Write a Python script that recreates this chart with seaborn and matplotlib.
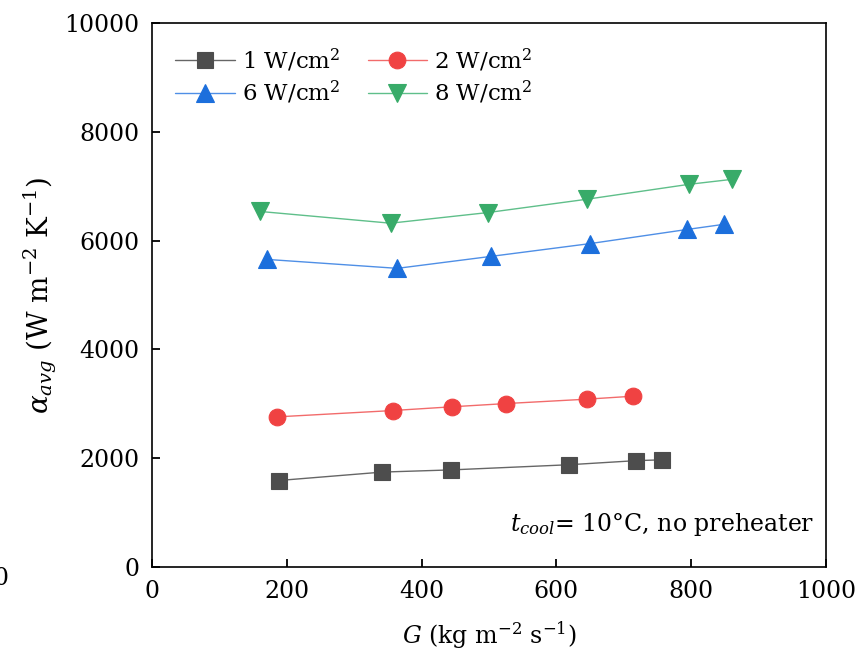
import matplotlib
matplotlib.use("Agg")
import matplotlib.pyplot as plt
import seaborn as sns
import pandas as pd

# Mass flux G (kg m^-2 s^-1) and average heat transfer coefficient (W m^-2 K^-1)
g_1w = [188, 342, 444, 619, 718, 756]
a_1w = [1590, 1745, 1785, 1880, 1955, 1970]

g_2w = [186, 357, 445, 526, 645, 714]
a_2w = [2760, 2876, 2945, 3005, 3085, 3140]

g_6w = [170, 364, 503, 650, 794, 849]
a_6w = [5655, 5490, 5710, 5945, 6205, 6300]

g_8w = [161, 354, 498, 645, 797, 860]
a_8w = [6535, 6320, 6515, 6760, 7035, 7125]

labels = ["1 W/cm$^2$", "2 W/cm$^2$", "6 W/cm$^2$", "8 W/cm$^2$"]
x_ticks = [0, 200, 400, 600, 800, 1000]
y_ticks = [0, 2000, 4000, 6000, 8000, 10000]

frames = []
for lab, g, a in zip(labels, [g_1w, g_2w, g_6w, g_8w], [a_1w, a_2w, a_6w, a_8w]):
    frames.append(pd.DataFrame({"G": g, "alpha": a, "q": lab}))
df = pd.concat(frames, ignore_index=True)

sns.set_theme(style="white")
plt.rcParams["font.family"] = ["DejaVu Serif"]
plt.rcParams["mathtext.fontset"] = "dejavuserif"
plt.rcParams["text.color"] = "black"
plt.rcParams["axes.labelcolor"] = "black"

fig = plt.figure(figsize=(8.61, 6.61), dpi=100)
ax = fig.add_axes([0.1765, 0.1422, 0.9593 - 0.1765, 0.9652 - 0.1422])

styles = {
    labels[0]: dict(line="#666666", face="#4d4d4d", marker="s", ms=11),
    labels[1]: dict(line="#f26b6b", face="#f04242", marker="o", ms=12),
    labels[2]: dict(line="#4f8fe6", face="#1c6fdc", marker="^", ms=13),
    labels[3]: dict(line="#5fbf8a", face="#38ab69", marker="v", ms=13),
}

for lab in labels:
    st = styles[lab]
    sub = df[df["q"] == lab]
    sns.lineplot(data=sub, x="G", y="alpha", ax=ax, sort=False, label=lab,
                 color=st["line"], linewidth=1.0, marker=st["marker"],
                 markersize=st["ms"], markerfacecolor=st["face"],
                 markeredgecolor=st["face"], markeredgewidth=0.8)

ax.set_xlim(0, 1000)
ax.set_ylim(0, 10000)
ax.set_xticks(x_ticks)
ax.set_yticks(y_ticks)
ax.tick_params(axis="both", direction="in", length=6, width=1.3,
               labelsize=17, colors="black", pad=9,
               bottom=True, left=True, top=False, right=False)
for sp in ax.spines.values():
    sp.set_color("black")
    sp.set_linewidth(1.2)

ax.set_xlabel(r"$G$ (kg m$^{-2}$ s$^{-1}$)", fontsize=17, labelpad=12)
ax.set_ylabel(r"$\alpha_{avg}$ (W m$^{-2}$ K$^{-1}$)", fontsize=20, labelpad=4)

ax.text(0.983, 0.078, r"$t_{cool}$= 10°C, no preheater", transform=ax.transAxes,
        ha="right", va="center", fontsize=17)

# two rows: 1 & 2 W/cm2 on top, 6 & 8 W/cm2 below
handles, labs = ax.get_legend_handles_labels()
order = [0, 2, 1, 3]
ax.legend([handles[i] for i in order], [labs[i] for i in order],
          loc="upper left", ncol=2, frameon=False, fontsize=16.5,
          handlelength=2.6, columnspacing=1.2, handletextpad=0.3,
          labelspacing=0.25, bbox_to_anchor=(0.004, 0.995))

fig.text(0.001, 0.125, "0", ha="center", va="center", fontsize=17)

fig.savefig("out.png", dpi=100)
